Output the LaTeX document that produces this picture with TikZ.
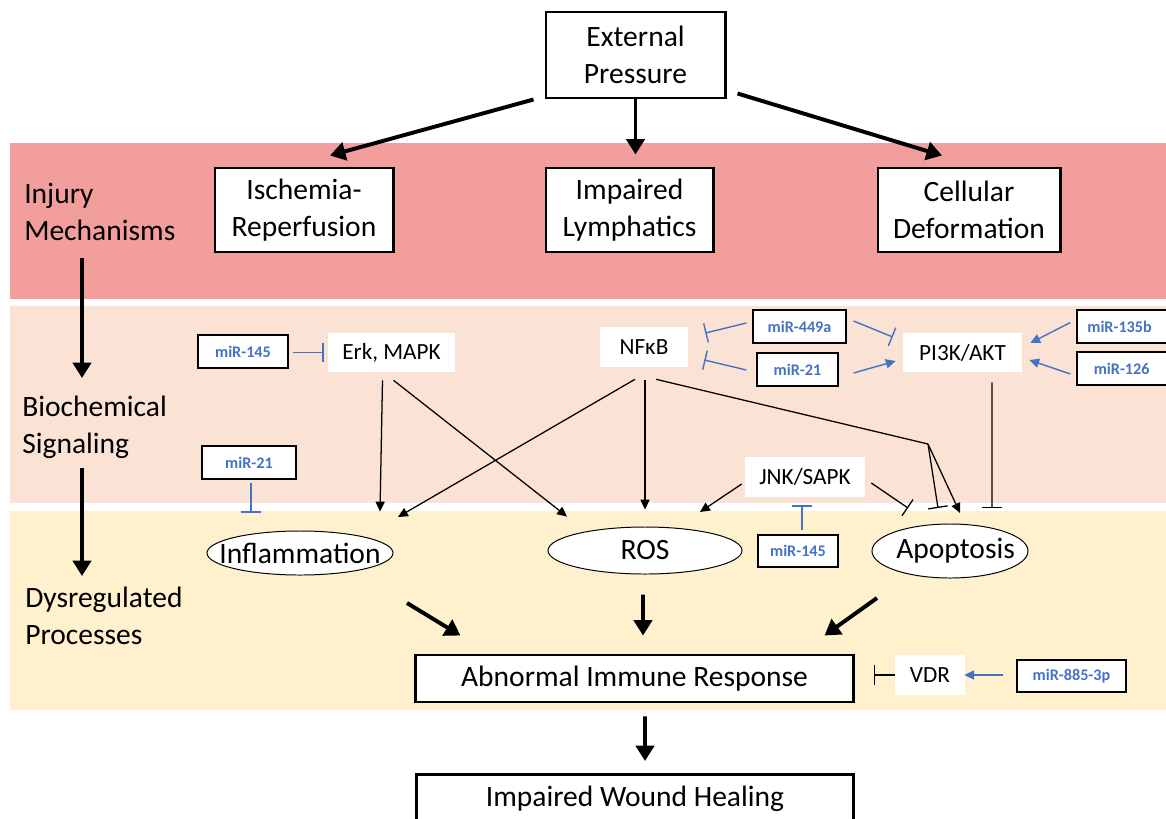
\documentclass[tikz,border=0pt]{standalone}
\usepackage{fontspec}
\setmainfont{Carlito}
\usetikzlibrary{arrows.meta,shapes.geometric,calc}
\definecolor{bandred}{RGB}{242,158,156}
\definecolor{bandpeach}{RGB}{250,226,213}
\definecolor{bandyellow}{RGB}{255,241,206}
\definecolor{mirblue}{RGB}{68,114,196}
\begin{document}
\begin{tikzpicture}[x=0.025cm,y=-0.025cm,
  bigbox/.style={draw=black, line width=2.1pt, fill=white, align=center, inner sep=0pt, font=\fontsize{21}{26}\selectfont},
  plainbox/.style={fill=white, inner sep=0pt, font=\fontsize{16.5}{20}\selectfont},
  mirbox/.style={draw=black, line width=0.8pt, fill=white, inner sep=0pt, text=mirblue, font=\fontsize{11.5}{13}\selectfont\bfseries},
  mirtext/.style={inner sep=0pt, text=mirblue, font=\fontsize{11.5}{13}\selectfont\bfseries},
  procell/.style={ellipse, draw=black, line width=0.7pt, fill=white, inner sep=0pt},
  proctext/.style={inner sep=0pt, font=\fontsize{21}{25}\selectfont},
  sidelabel/.style={anchor=west, align=left, inner sep=0pt, font=\fontsize{21}{26}\selectfont},
  bigarrow/.style={line width=2.8pt, -{Triangle[length=11pt,width=13pt]}},
  thinarrow/.style={line width=0.9pt, -{Triangle[length=7pt,width=6.5pt]}},
  thinline/.style={line width=0.9pt},
  thinbar/.style={line width=0.9pt, -{Bar[width=14pt]}},
  bluearrow/.style={draw=mirblue, line width=1pt, -{Triangle[length=7pt,width=6.5pt]}},
  bluebar/.style={draw=mirblue, line width=1pt, -{Bar[width=14pt]}}]
\clip (0,0) rectangle (1166,818);
\fill[white] (0,0) rectangle (1166,818);
% bands
\fill[bandred] (10,143) rectangle (1166,299);
\fill[bandpeach] (10,306) rectangle (1166,503);
\fill[bandyellow] (10,511) rectangle (1166,710);

% side labels
\node[sidelabel] (inj) at (24,212) {Injury\\Mechanisms};
\node[sidelabel] (bio) at (22,427) {Biochemical\\Signaling};
\node[sidelabel] (dys) at (25,616) {Dysregulated\\Processes};

% top boxes
\node[bigbox, minimum width=4.475cm, minimum height=2.15cm] (ext) at (635.5,55) {External\\Pressure};
\node[bigbox, minimum width=4.45cm, minimum height=2.1cm] (isch) at (304,210) {Ischemia-\\Reperfusion};
\node[bigbox, minimum width=4.175cm, minimum height=2.1cm] (lymph) at (629.5,210) {Impaired\\Lymphatics};
\node[bigbox, minimum width=4.55cm, minimum height=2.1cm] (cell) at (969,210) {Cellular\\Deformation};

% signaling
\node[plainbox, minimum width=3.175cm, minimum height=0.975cm] (erk) at (391.5,352.5) {Erk, MAPK};
\node[plainbox, minimum width=2.2cm, minimum height=1cm] (nfkb) at (644,347) {NFκB};
\node[plainbox, minimum width=2.975cm, minimum height=0.975cm] (pi3k) at (962.5,352.5) {PI3K/AKT};
\node[plainbox, minimum width=3cm, minimum height=1cm] (jnk) at (805,477) {JNK/SAPK};
\node[plainbox, minimum width=1.75cm, minimum height=1cm] (vdr) at (930,675) {VDR};

% miRNAs
\node[mirbox, minimum width=2.25cm, minimum height=0.825cm] (mirLa) at (243,351.5) {miR-145};
\node[mirbox, minimum width=2.35cm, minimum height=0.825cm] (mirLb) at (249,462.5) {miR-21};
\node[mirbox, minimum width=2.325cm, minimum height=0.825cm] (mirA) at (799.5,326.5) {miR-449a};
\node[mirbox, minimum width=2.025cm, minimum height=0.825cm] (mirB) at (797.5,369.5) {miR-21};
\node[mirbox, minimum width=2.375cm, minimum height=0.825cm, label={[mirtext, xshift=-3.5pt]center:miR-135b}] (mirC) at (1124.5,326.5) {};
\node[mirbox, minimum width=2.375cm, minimum height=0.825cm, label={[mirtext, xshift=-2pt]center:miR-126}] (mirD) at (1124.5,368.5) {};
\node[mirbox, minimum width=2cm, minimum height=0.8cm] (mirE) at (798,551) {miR-145};
\node[mirbox, minimum width=2.725cm, minimum height=0.8cm] (mirF) at (1071.5,676) {miR-885-3p};

% processes
\node[procell, minimum width=4.65cm, minimum height=1.1cm, label={[proctext]center:Inflammation}] (infl) at (300,553) {};
\node[procell, minimum width=4.85cm, minimum height=1.175cm, label={[proctext]center:ROS}] (ros) at (645,550.5) {};
\node[procell, minimum width=3.9cm, minimum height=1.35cm, label={[proctext, xshift=4pt]center:Apoptosis}] (apop) at (950,551) {};

\node[bigbox, minimum width=10.925cm, minimum height=1.175cm] (air) at (634.5,678.5) {Abnormal Immune Response};
\node[bigbox, minimum width=10.9cm, text height=0.8cm, text depth=1.25cm, anchor=north] (iwh) at (635,773) {Impaired Wound Healing};

% thick arrows
\draw[bigarrow] ($(ext.south west)+(-11,0)$) -- ($(isch.north)+(26,-11)$);
\draw[bigarrow] (ext.south) -- ($(ext.south |- lymph.north)+(0,-12)$);
\draw[bigarrow] ($(ext.south east)+(11,-6)$) -- ($(cell.north)+(-27,-11)$);
\draw[bigarrow] ($(inj.west)+(58,46)$) -- ($(bio.west)+(60,-49)$);
\draw[bigarrow] ($(bio.west)+(60,41)$) -- ($(dys.west)+(57,-40)$);

% thin black connectors
\draw[thinarrow] ($(erk.south)+(-9,8)$) -- ($(infl.north)+(80,-19)$);
\draw[thinarrow] ($(erk.south)+(2,8)$) -- ($(ros.center)+(-78,-34)$);
\draw[thinarrow] ($(nfkb.south)+(-9,12)$) -- ($(infl.center)+(98,-36)$);
\draw[thinarrow] ($(nfkb.south)+(1,13)$) -- ($(ros.north)+(0,-17)$);
\coordinate (jn) at (928,444);
\draw[thinline] ($(nfkb.south)+(12,12)$) -- (jn);
\draw[thinbar] (jn) -- ($(apop.center)+(-12,-43)$);
\draw[thinarrow] (jn) -- ($(apop.center)+(10,-38)$);
\draw[thinarrow] ($(jnk.west)+(-3,7)$) -- ($(ros.center)+(55,-38.5)$);
\draw[thinbar] ($(jnk.east)+(6,6)$) -- ($(apop.center)+(-42,-43)$);
\draw[thinbar] ($(pi3k.south)+(29.5,10)$) -- ($(apop.center)+(42,-43)$);
\draw[thinbar] (vdr.west) -- ($(air.east)+(19,-3.5)$);

% blue connectors
\draw[bluebar] ($(mirE.north)+(4,-4)$) -- ($(jnk.south)+(-3,8)$);
\draw[bluebar] ($(mirLb.south)+(2,3)$) -- ($(infl.north)+(-49,-18)$);
\draw[bluebar] ($(mirLa.east)+(4,1)$) -- ($(erk.west)+(-4,0)$);
\draw[bluebar] ($(mirA.west)+(-6,-3.5)$) -- ($(nfkb.east)+(17,-14)$);
\draw[bluebar] ($(mirB.west)+(-10,0.5)$) -- ($(nfkb.east)+(16,13)$);
\draw[bluebar] ($(mirA.east)+(7,-5.5)$) -- ($(pi3k.west)+(-10,-15.5)$);
\draw[bluearrow] ($(mirB.east)+(15,3.5)$) -- ($(pi3k.west)+(-7,8.5)$);
\draw[bluearrow] ($(mirC.west)+(-6,-4)$) -- ($(pi3k.east)+(8,-9.5)$);
\draw[bluearrow] ($(mirD.west)+(-6,5.5)$) -- ($(pi3k.east)+(7,7.5)$);
\draw[bluearrow] ($(mirF.west)+(-13,-1)$) -- ($(vdr.east)+(-1,0)$);

% bottom thick arrows
\draw[bigarrow] ($(infl.center)+(107,50)$) -- ($(air.north west)+(46,-18)$);
\draw[bigarrow] ($(ros.south)+(-2,20)$) -- ($(air.north)+(8.5,-18)$);
\draw[bigarrow] ($(apop.center)+(-73,47)$) -- ($(air.north east)+(-30,-18)$);
\draw[bigarrow] ($(air.south)+(10.5,13)$) -- ($(iwh.north)+(10,-12)$);
\end{tikzpicture}
\end{document}
